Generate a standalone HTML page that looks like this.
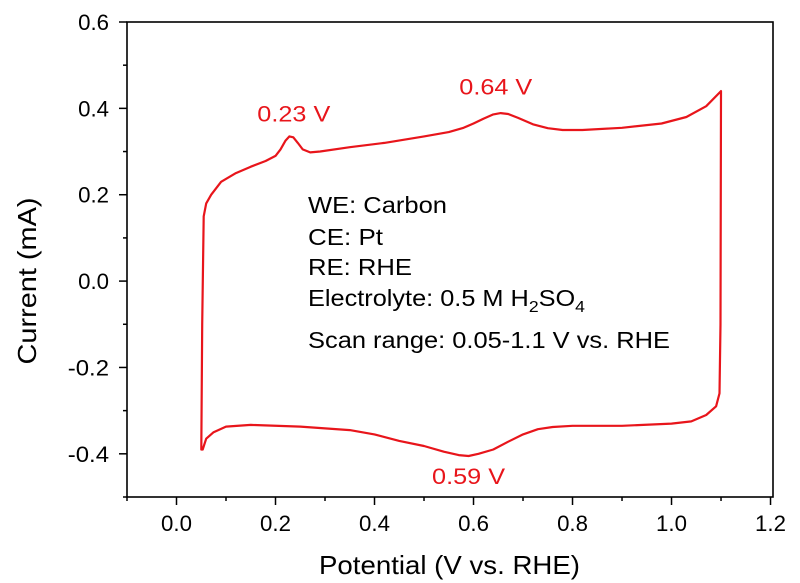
<!DOCTYPE html>
<html><head><meta charset="utf-8"><style>
body{margin:0;background:#fff;}
svg{display:block;font-family:"Liberation Sans",Arial,sans-serif;}
</style></head><body>
<svg id="chart" width="800" height="583"></svg>
<script>
const xTicks=[0.0,0.2,0.4,0.6,0.8,1.0,1.2];
const xTickLabels=["0.0","0.2","0.4","0.6","0.8","1.0","1.2"];
const yTicks=[-0.4,-0.2,0.0,0.2,0.4,0.6];
const yTickLabels=["-0.4","-0.2","0.0","0.2","0.4","0.6"];
const anodicV=[0.05,0.052,0.055,0.06,0.07,0.09,0.12,0.15,0.18,0.2,0.21,0.22,0.228,0.236,0.245,0.255,0.27,0.29,0.35,0.42,0.5,0.55,0.58,0.6,0.62,0.64,0.655,0.67,0.69,0.72,0.75,0.78,0.82,0.9,0.98,1.03,1.07,1.1];
const anodicI=[-0.39,-0.1,0.15,0.18,0.2,0.23,0.25,0.265,0.278,0.29,0.305,0.325,0.335,0.333,0.32,0.305,0.298,0.3,0.31,0.32,0.335,0.345,0.355,0.365,0.376,0.386,0.389,0.387,0.378,0.363,0.354,0.35,0.35,0.355,0.365,0.38,0.405,0.44];
const cathodicV=[1.1,1.099,1.097,1.09,1.07,1.04,1.0,0.9,0.8,0.76,0.73,0.7,0.67,0.64,0.61,0.59,0.57,0.54,0.5,0.45,0.4,0.35,0.25,0.15,0.1,0.075,0.06,0.053];
const cathodicI=[0.44,-0.1,-0.26,-0.29,-0.31,-0.325,-0.33,-0.335,-0.335,-0.338,-0.343,-0.355,-0.372,-0.39,-0.4,-0.405,-0.403,-0.395,-0.382,-0.37,-0.355,-0.345,-0.337,-0.333,-0.337,-0.35,-0.365,-0.39];
const annTexts=["0.23 V","0.64 V","0.59 V"];
const annX=[0.237,0.645,0.59];
const annY=[0.37,0.432,-0.47];

const L=127,R=773,T=22,B=497,xmin=-0.1,xmax=1.205,ymin=-0.5,ymax=0.6;
const sx=v=>L+(v-xmin)/(xmax-xmin)*(R-L);
const sy=v=>B-(v-ymin)/(ymax-ymin)*(B-T);
const svg=document.getElementById('chart');
const NS='http://www.w3.org/2000/svg';
function mk(tag,attrs,parent){const e=document.createElementNS(NS,tag);for(const k in attrs)e.setAttribute(k,attrs[k]);(parent||svg).appendChild(e);return e;}
const tw=s=>s.length*10.3;

const frame=mk('rect',{x:L,y:T,width:R-L,height:B-T,fill:'none',stroke:'#000','stroke-width':1.6});



const xg=mk('g',{});


for(let i=0;i<xTicks.length;i++){
  const x=sx(xTicks[i]);
  mk('line',{x1:x,x2:x,y1:B,y2:B+8,stroke:'#000','stroke-width':1.5},xg);
  const t=mk('text',{x:x,y:B+34,'text-anchor':'middle','font-size':22,textLength:tw(xTickLabels[i]),lengthAdjust:'spacingAndGlyphs'},xg);
  t.textContent=xTickLabels[i];
  
  
}
for(let v=-0.1;v<1.21;v+=0.2){const x=sx(v);mk('line',{x1:x,x2:x,y1:B,y2:B+4,stroke:'#000','stroke-width':1.5},xg);}
const yg=mk('g',{});


for(let i=0;i<yTicks.length;i++){
  const y=sy(yTicks[i]);
  mk('line',{x1:L-8,x2:L,y1:y,y2:y,stroke:'#000','stroke-width':1.5},yg);
  const t=mk('text',{x:L-18,y:y+8,'text-anchor':'end','font-size':22,textLength:tw(yTickLabels[i]),lengthAdjust:'spacingAndGlyphs'},yg);
  t.textContent=yTickLabels[i];
  
  
}
for(let v=-0.5;v<0.6;v+=0.2){const y=sy(v);mk('line',{x1:L-4,x2:L,y1:y,y2:y,stroke:'#000','stroke-width':1.5},yg);}

const xt=mk('text',{x:319,y:574,'font-size':26,textLength:261,lengthAdjust:'spacingAndGlyphs'});
xt.textContent='Potential (V vs. RHE)';


const yt=mk('text',{x:0,y:0,'text-anchor':'middle','font-size':26,textLength:167,lengthAdjust:'spacingAndGlyphs',transform:'translate(36,281) rotate(-90)'});
yt.textContent='Current (mA)';



let d='';
for(let i=0;i<anodicV.length;i++)d+=(i?'L':'M')+sx(anodicV[i]).toFixed(1)+','+sy(anodicI[i]).toFixed(1);
for(let i=0;i<cathodicV.length;i++)d+='L'+sx(cathodicV[i]).toFixed(1)+','+sy(cathodicI[i]).toFixed(1);
const cv=mk('path',{d:d+'Z',fill:'none',stroke:'#e8151b','stroke-width':2.2,'stroke-linejoin':'round'});



for(let i=0;i<annTexts.length;i++){
  const t=mk('text',{x:sx(annX[i]),y:sy(annY[i]),'text-anchor':'middle','font-size':22,fill:'#e8151b',textLength:73,lengthAdjust:'spacingAndGlyphs'});
  t.textContent=annTexts[i];
  
  
}
const info=mk('g',{'font-size':23});


const lines=[['WE: Carbon',213,139],['CE: Pt',245,75],['RE: RHE',275,104]];
lines.forEach(l=>{const t=mk('text',{x:308,y:l[1],textLength:l[2],lengthAdjust:'spacingAndGlyphs'},info);t.textContent=l[0];});
let el=mk('text',{x:308,y:306,'font-size':23,textLength:277,lengthAdjust:'spacingAndGlyphs'},info);
let ts=mk('tspan',{},el);ts.textContent='Electrolyte: 0.5 M H';
ts=mk('tspan',{'font-size':16,dy:6},el);ts.textContent='2';
ts=mk('tspan',{dy:-6},el);ts.textContent='SO';
ts=mk('tspan',{'font-size':16,dy:6},el);ts.textContent='4';
const sc=mk('text',{x:308,y:348,textLength:362,lengthAdjust:'spacingAndGlyphs'},info);sc.textContent='Scan range: 0.05-1.1 V vs. RHE';
</script>
</body></html>
